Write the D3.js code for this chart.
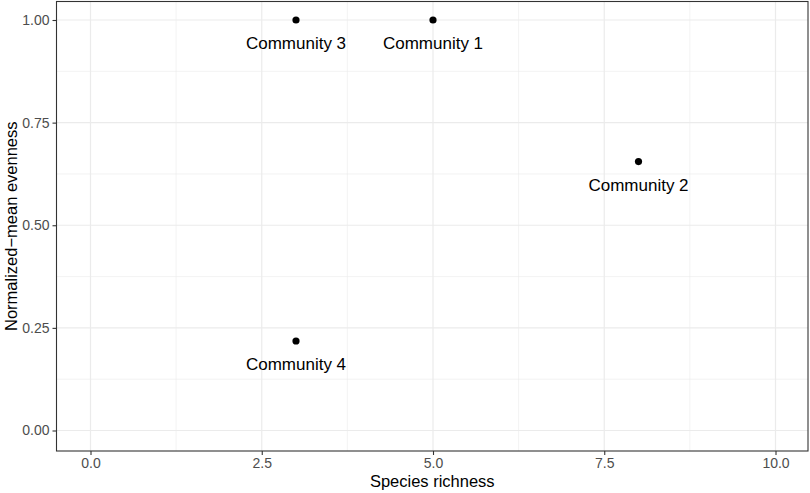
<html>
<head>
<meta charset="utf-8">
<script src="https://d3js.org/d3.v7.min.js"></script>
<style>
body { margin: 0; background: white; }
text { font-family: "Liberation Sans", Arial, sans-serif; }
</style>
</head>
<body>
<script>
var names = ["Community 1", "Community 2", "Community 3", "Community 4"];
var richness = [5, 8, 3, 3];
var evenness = [1.0, 0.655, 1.0, 0.218];
var xTicks = [0, 2.5, 5, 7.5, 10];
var yTicks = [0, 0.25, 0.5, 0.75, 1];

var w = 810, h = 493;
var pLeft = 56.5, pRight = 808, pTop = 1.5, pBottom = 451;

var x = d3.scaleLinear().domain([0, 10]).range([90.5, 775.5]);
var y = d3.scaleLinear().domain([0, 1]).range([430.5, 20]);

var svg = d3.select("body").append("svg").attr("width", w).attr("height", h);

// panel
svg.append("rect").attr("x", pLeft).attr("y", pTop)
  .attr("width", pRight - pLeft).attr("height", pBottom - pTop).attr("fill", "white");

var minorX = [1.25, 3.75, 6.25, 8.75];
var minorY = [0.125, 0.375, 0.625, 0.875];
var grid = svg.append("g");
grid.selectAll(".mx").data(minorX).enter().append("line")
  .attr("x1", d => x(d)).attr("x2", d => x(d)).attr("y1", pTop).attr("y2", pBottom)
  .attr("stroke", "#ebebeb").attr("stroke-width", 0.6);
grid.selectAll(".my").data(minorY).enter().append("line")
  .attr("y1", d => y(d)).attr("y2", d => y(d)).attr("x1", pLeft).attr("x2", pRight)
  .attr("stroke", "#ebebeb").attr("stroke-width", 0.6);
grid.selectAll(".Mx").data(xTicks).enter().append("line")
  .attr("x1", d => x(d)).attr("x2", d => x(d)).attr("y1", pTop).attr("y2", pBottom)
  .attr("stroke", "#ebebeb").attr("stroke-width", 1.2);
grid.selectAll(".My").data(yTicks).enter().append("line")
  .attr("y1", d => y(d)).attr("y2", d => y(d)).attr("x1", pLeft).attr("x2", pRight)
  .attr("stroke", "#ebebeb").attr("stroke-width", 1.2);

// axes
var xAxis = d3.axisBottom(x).tickValues(xTicks).tickFormat(d3.format(".1f")).tickSize(4).tickPadding(3);
var yAxis = d3.axisLeft(y).tickValues(yTicks).tickFormat(d3.format(".2f")).tickSize(4).tickPadding(3);
var gx = svg.append("g").attr("transform", "translate(0," + pBottom + ")").call(xAxis);
var gy = svg.append("g").attr("transform", "translate(" + pLeft + ",0)").call(yAxis);
[gx, gy].forEach(function(g) {
  g.select(".domain").remove();
  g.selectAll(".tick line").attr("stroke", "#333333").attr("stroke-width", 1.1);
  g.selectAll(".tick text").attr("fill", "#4d4d4d").style("font-size", "14px")
    .style("font-family", "'Liberation Sans', Arial, sans-serif");
});

// border
svg.append("rect").attr("x", pLeft).attr("y", pTop)
  .attr("width", pRight - pLeft).attr("height", pBottom - pTop)
  .attr("fill", "none").attr("stroke", "#333333").attr("stroke-width", 1.1);

// points and labels
var idx = d3.range(names.length);
svg.selectAll("circle.pt").data(idx).enter().append("circle")
  .attr("cx", i => x(richness[i])).attr("cy", i => y(evenness[i]))
  .attr("r", 3.6).attr("fill", "black");
svg.selectAll("text.lab").data(idx).enter().append("text")
  .attr("x", i => x(richness[i])).attr("y", i => y(evenness[i]) + 29)
  .attr("text-anchor", "middle").style("font-size", "17px").attr("fill", "black")
  .text(i => names[i]);

// titles
svg.append("text").attr("x", (pLeft + pRight) / 2).attr("y", 487)
  .attr("text-anchor", "middle").style("font-size", "16.5px").text("Species richness");
svg.append("text").attr("transform", "translate(17," + (pTop + pBottom) / 2 + ") rotate(-90)")
  .attr("text-anchor", "middle").style("font-size", "16.5px").text("Normalized\u2212mean evenness");
</script>
</body>
</html>
